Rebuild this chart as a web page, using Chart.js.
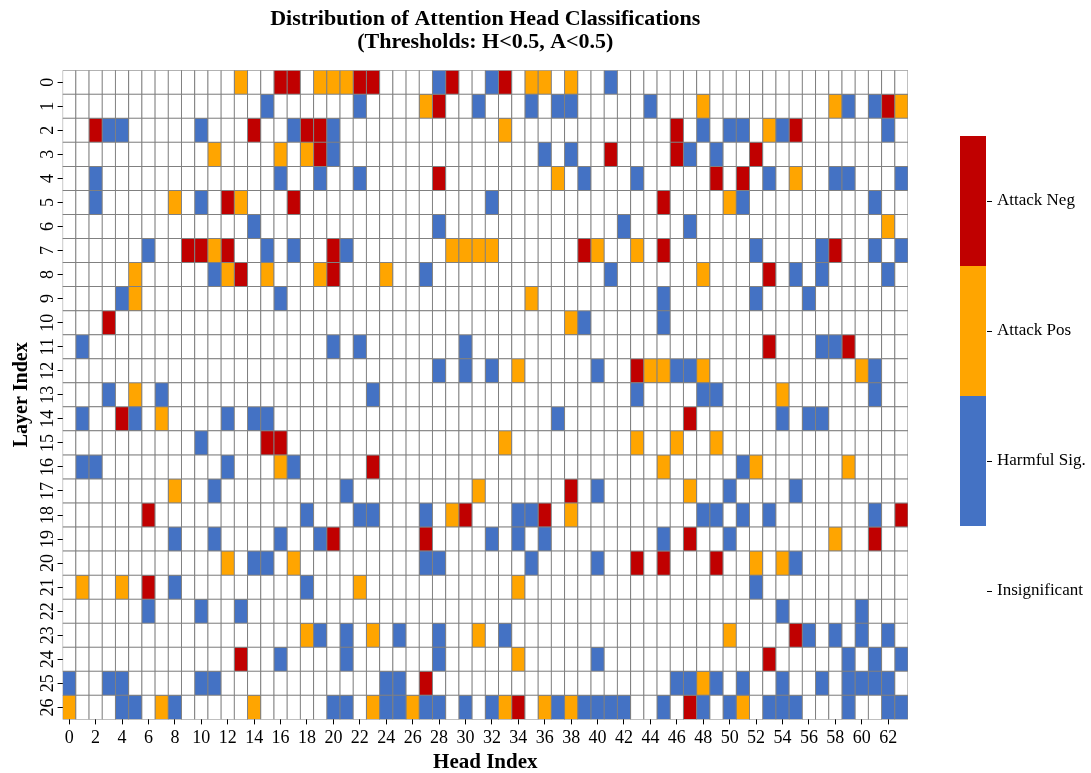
<!DOCTYPE html>
<html>
<head>
<meta charset="utf-8">
<script src="https://cdn.jsdelivr.net/npm/chart.js@4.4.0/dist/chart.umd.min.js"></script>
<style>
  html, body { margin: 0; padding: 0; background: #fff; }
  #wrap { width: 1091px; height: 773px; }
</style>
</head>
<body>
<div id="wrap"><canvas id="heatmap"></canvas></div>
<script>
// head / layer indices
var headLabels = [];
for (var h = 0; h < 64; h++) headLabels.push(String(h));
var layerLabels = [];
for (var l = 0; l < 27; l++) layerLabels.push(l);

var classNames = ['Insignificant', 'Harmful Sig.', 'Attack Pos', 'Attack Neg'];
var classColors = ['#ffffff', '#4472c4', '#ffa500', '#c00000'];

// heads per layer for each class (everything else is insignificant)
var harmfulSig = [
  [28, 32, 41],
  [15, 22, 31, 35, 37, 38, 44, 59, 61],
  [3, 4, 10, 17, 20, 48, 50, 51, 54, 62],
  [20, 36, 38, 47, 49],
  [2, 16, 19, 22, 39, 43, 53, 58, 59, 63],
  [2, 10, 32, 51, 61],
  [14, 28, 42, 47],
  [6, 15, 17, 21, 52, 57, 61, 63],
  [11, 27, 41, 55, 57, 62],
  [4, 16, 45, 52, 56],
  [39, 45],
  [1, 20, 22, 30, 57, 58],
  [28, 30, 32, 40, 46, 47, 61],
  [3, 7, 23, 43, 48, 49, 61],
  [1, 5, 12, 14, 15, 37, 54, 56, 57],
  [10],
  [1, 2, 12, 17, 51],
  [11, 21, 40, 50, 55],
  [18, 22, 23, 27, 34, 35, 48, 49, 51, 53, 61],
  [8, 11, 16, 19, 32, 34, 36, 45, 50],
  [14, 15, 27, 28, 35, 40, 55],
  [8, 18, 52],
  [6, 10, 13, 54, 60],
  [19, 21, 25, 28, 33, 56, 58, 60, 62],
  [16, 21, 28, 40, 59, 61, 63],
  [0, 3, 4, 10, 11, 24, 25, 46, 47, 49, 51, 54, 57, 59, 60, 61, 62],
  [4, 5, 8, 20, 21, 24, 25, 27, 28, 30, 32, 37, 39, 40, 41, 42, 45, 48, 50, 53, 54, 55, 59, 62, 63]
];
var attackPos = [
  [13, 19, 20, 21, 35, 36, 38],
  [27, 48, 58, 63],
  [33, 53],
  [11, 16, 18],
  [37, 55],
  [8, 13, 50],
  [62],
  [11, 29, 30, 31, 32, 40, 43],
  [5, 12, 15, 19, 24, 48],
  [5, 35],
  [38],
  [],
  [34, 44, 45, 48, 60],
  [5, 54],
  [7],
  [33, 43, 46, 49],
  [16, 45, 52, 59],
  [8, 31, 47],
  [29, 38],
  [58],
  [12, 17, 52, 54],
  [1, 4, 22, 34],
  [],
  [18, 23, 31, 50],
  [34],
  [48],
  [0, 7, 14, 23, 26, 33, 36, 38, 51]
];
var attackNeg = [
  [16, 17, 22, 23, 29, 33],
  [28, 62],
  [2, 14, 18, 19, 46, 55],
  [19, 41, 46, 52],
  [28, 49, 51],
  [12, 17, 45],
  [],
  [9, 10, 12, 20, 39, 45, 58],
  [13, 20, 53],
  [],
  [3],
  [53, 59],
  [43],
  [],
  [4, 47],
  [15, 16],
  [23],
  [38],
  [6, 30, 36, 63],
  [20, 27, 47, 61],
  [43, 45, 49],
  [6],
  [],
  [55],
  [13, 53],
  [27],
  [34, 47]
];

function toCells(perLayer) {
  var pts = [];
  perLayer.forEach(function (list, layer) {
    list.forEach(function (head) {
      pts.push({ x: String(head), y: [layer, layer + 1] });
    });
  });
  return pts;
}

// cells not in any significant class
var insignificant = layerLabels.map(function (layer) {
  var used = harmfulSig[layer].concat(attackPos[layer], attackNeg[layer]);
  var rest = [];
  for (var i = 0; i < headLabels.length; i++) {
    if (used.indexOf(i) < 0) rest.push(i);
  }
  return rest;
});

var classCells = [insignificant, harmfulSig, attackPos, attackNeg];

var datasets = classCells.map(function (cells, k) {
  return {
    label: classNames[k],
    data: toCells(cells),
    backgroundColor: classColors[k],
    borderColor: '#808080',
    borderWidth: 1,
    borderSkipped: false,
    inflateAmount: 0.5,
    grouped: false,
    barPercentage: 1,
    categoryPercentage: 1
  };
});

// categorical colour bar on the right
var colorBar = {
  id: 'colorBar',
  afterDraw: function (chart) {
    var ctx = chart.ctx;
    var left = 960, width = 26, top = 136, segH = 130;
    ctx.save();
    for (var i = 0; i < classNames.length; i++) {
      var k = classNames.length - 1 - i;
      var y0 = top + i * segH;
      ctx.fillStyle = classColors[k];
      ctx.fillRect(left, y0, width, segH);
      ctx.strokeStyle = '#000';
      ctx.lineWidth = 1;
      ctx.beginPath();
      ctx.moveTo(left + width + 1, Math.round(y0 + segH / 2) + 0.5);
      ctx.lineTo(left + width + 6, Math.round(y0 + segH / 2) + 0.5);
      ctx.stroke();
      ctx.fillStyle = '#000';
      ctx.font = "17px 'Liberation Serif', serif";
      ctx.textAlign = 'left';
      ctx.textBaseline = 'middle';
      ctx.fillText(classNames[k], left + width + 11, y0 + segH / 2);
    }
    ctx.restore();
  }
};

Chart.defaults.font.family = "'Liberation Serif', 'DejaVu Serif', serif";
Chart.defaults.color = '#000';

new Chart(document.getElementById('heatmap'), {
  type: 'bar',
  data: { labels: headLabels, datasets: datasets },
  options: {
    responsive: true,
    maintainAspectRatio: false,
    animation: false,
    layout: { padding: { left: 10, right: 183, top: 8, bottom: 0 } },
    plugins: {
      legend: { display: false },
      tooltip: { enabled: false },
      title: {
        display: true,
        fullSize: false,
        text: ['Distribution of Attention Head Classifications', '(Thresholds: H<0.5, A<0.5)'],
        font: { size: 22, weight: 'bold', lineHeight: 1.05 },
        color: '#000',
        padding: { top: 0, bottom: 16 }
      }
    },
    scales: {
      x: {
        type: 'category',
        offset: true,
        border: { display: false },
        grid: {
          offset: false,
          drawOnChartArea: false,
          tickLength: 5,
          color: function (c) { return c.index % 2 === 0 ? '#000' : 'rgba(0,0,0,0)'; }
        },
        ticks: {
          autoSkip: false,
          maxRotation: 0,
          padding: 3,
          font: { size: 18 },
          callback: function (v, i) { return i % 2 === 0 ? headLabels[i] : ''; }
        },
        title: { display: true, text: 'Head Index', font: { size: 21, weight: 'bold', lineHeight: 1.0 }, padding: { top: 0, bottom: 0 } }
      },
      y: {
        type: 'linear',
        min: 0,
        max: 27,
        reverse: true,
        border: { display: false },
        afterBuildTicks: function (scale) {
          scale.ticks = layerLabels.map(function (l) { return { value: l + 0.5 }; });
        },
        grid: { drawOnChartArea: false, tickLength: 5, color: '#000' },
        ticks: {
          autoSkip: false,
          minRotation: 90,
          maxRotation: 90,
          crossAlign: 'center',
          padding: 0,
          font: { size: 18 },
          callback: function (v) { return String(Math.round(v - 0.5)); }
        },
        title: { display: true, text: 'Layer Index', font: { size: 20, weight: 'bold' }, padding: { top: 0, bottom: 2 } }
      }
    }
  },
  plugins: [colorBar]
});
</script>
</body>
</html>
